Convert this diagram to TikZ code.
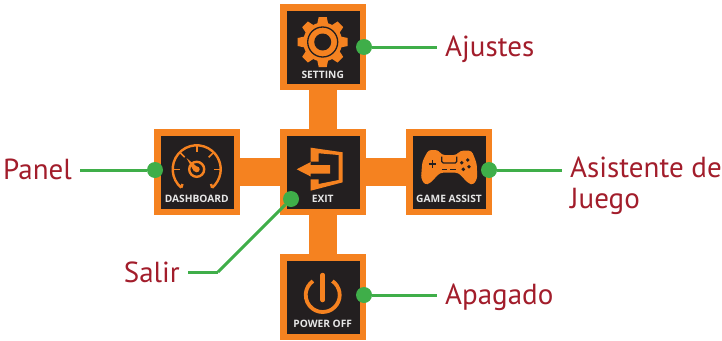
\documentclass[tikz,border=0pt]{standalone}
\usepackage{fontspec}
\setmainfont{PT Sans}
\newfontfamily\capfont{Open Sans}
\definecolor{osdorange}{HTML}{F58220}
\definecolor{osddark}{HTML}{231F20}
\definecolor{osdgreen}{HTML}{3FAE49}
\definecolor{osdred}{HTML}{A21D2B}
\definecolor{osdcap}{HTML}{E6E6E6}
\tikzset{
  menubox/.style={draw=osdorange,fill=osddark,line width=6.5pt,minimum size=79.5pt,inner sep=0pt},
  menubar/.style={osdorange,line width=28pt},
  menucap/.style={text=osdcap,font=\capfont\bfseries\fontsize{10.2}{11}\selectfont,inner sep=0pt},
  iconline/.style={osdorange,line width=2.4pt},
  iconcut/.style={osddark,line width=1.3pt},
  dot/.style={circle,fill=osdgreen,minimum size=16pt,inner sep=0pt},
  lead/.style={osdgreen,line width=3pt},
  lbl/.style={text=osdred,font=\fontsize{29}{31}\selectfont,inner xsep=8pt,inner ysep=0pt,align=left},
}
\begin{document}
\begin{tikzpicture}[x=1pt,y=-1pt]
\useasboundingbox (0,0) rectangle (722,340);
\node[menubox] (setting) at (323,47) {};
\node[menubox] (dashboard) at (197,172) {};
\node[menubox] (exit) at (323,172) {};
\node[menubox] (game) at (449,172) {};
\node[menubox] (power) at (323,297) {};

\path[menubar] (setting.south) edge (exit.north)
               (exit.south) edge (power.north)
               (dashboard.east) edge (exit.west)
               (exit.east) edge (game.west);

\fill[osdorange] (322.7,42) circle[radius=19.5];
\foreach \a in {0,45,...,315}
  \fill[osdorange,shift={(322.7,42)},rotate=\a] (-5.5,-18) -- (-4,-25) -- (4,-25) -- (5.5,-18) -- cycle;
\draw[iconcut] (322.7,42) circle[radius=15];
\fill[osddark] (322.7,42) circle[radius=8.5];

\draw[iconline] (196.7,169.3) ++(130:24) arc[start angle=130,end angle=410,radius=24];
\draw[iconline] (196.7,169.3) ++(130:24) -- (182.5,184);
\draw[iconline] (196.7,169.3) ++(50:24) -- (211,184);
\foreach \a in {180,225,270,315,360}
  \draw[iconline,line width=1.6pt,shift={(196.7,169.3)}] (\a:24) -- (\a:17);
\draw[iconline] (196.7,169.3) circle[radius=7.5];
\fill[osdorange] (196.7,169.3) circle[radius=3];
\fill[osdorange] (196.7,166.5) -- (186.5,158) -- (194,171.5) -- cycle;

\fill[osdorange] (296.7,169.3) -- (310.7,162) -- (310.7,165) -- (330,165) -- (330,173.5) -- (310.7,173.5) -- (310.7,176.5) -- cycle;
\fill[osdorange] (310.7,147.7) -- (342.7,152.3) -- (342.7,182.3) -- (310.7,190.7) -- (310.7,179.3) -- (318.7,179.3) -- (318.7,184) -- (338.7,180) -- (338.7,155) -- (318.7,153.3) -- (318.7,161.7) -- (310.7,161.7) -- cycle;

\fill[osdorange,rounded corners=3pt] (428.3,150) -- (438.3,150) -- (441.7,155) -- (456.7,155) -- (460,150.7) -- (471.7,150.7) -- (476.7,163.3) -- (477.3,178.3) -- (473.3,185) -- (468.3,183.3) -- (458.3,172.7) -- (440,172.7) -- (430,183.3) -- (425,185) -- (421,178.3) -- (422.3,161.7) -- cycle;
\draw[osddark,line width=1.2pt,rounded corners=1.5pt] (441.7,156.5) -- (441.7,163) -- (456.7,163) -- (456.7,156.5);
\draw[osddark,line width=1.4pt] (428.5,164) -- (436,164) (432.3,160.3) -- (432.3,167.7);
\draw[osddark,line width=1.2pt] (442,169.3) -- (447,169.3) (450,169.3) -- (456,169.3);
\foreach \p in {(461.7,162.7),(467.7,160),(469,166.7),(463.3,169.3)}
  \fill[osddark] \p circle[radius=1.9];

\draw[osdorange,line width=3.8pt] (322.7,295) ++(-55:17) arc[start angle=-55,end angle=235,radius=17];
\draw[osdorange,line width=4.5pt,line cap=round] (322.7,275) -- (322.7,300);

\node[menucap] (capsetting) at (322.7,74.7) {SETTING};
\node[menucap] (capdashboard) at (196.7,199.3) {DASHBOARD};
\node[menucap] (capexit) at (322.7,199.3) {EXIT};
\node[menucap] (capgame) at (449,199.3) {GAME ASSIST};
\node[menucap] (cappower) at (322.7,324.3) {POWER OFF};

\node[dot] (dotsetting) at (364,47) {};
\node[dot] (dotdashboard) at (155,170) {};
\node[dot] (dotexit) at (291,199) {};
\node[dot] (dotgame) at (489,170) {};
\node[dot] (dotpower) at (364,295) {};

\node[lbl,anchor=base west] (ajustes) at (437,56) {Ajustes};
\node[lbl,anchor=base east] (panel) at (80,179) {Panel};
\node[lbl,anchor=base east] (salir) at (188,282) {Salir};
\node[lbl,anchor=base west] (apagado) at (437,304) {Apagado};
\node[lbl,anchor=west] (asistente) at (562,186) {Asistente de\\Juego};
\coordinate (bendsalir) at (218,272);

\path[lead] (dotsetting) edge (dotsetting -| ajustes.west)
            (dotdashboard) edge (dotdashboard -| panel.east)
            (dotgame) edge (dotgame -| asistente.west)
            (dotpower) edge (dotpower -| apagado.west)
            (dotexit) edge (bendsalir)
            (bendsalir) edge (bendsalir -| salir.east);
\end{tikzpicture}
\end{document}
